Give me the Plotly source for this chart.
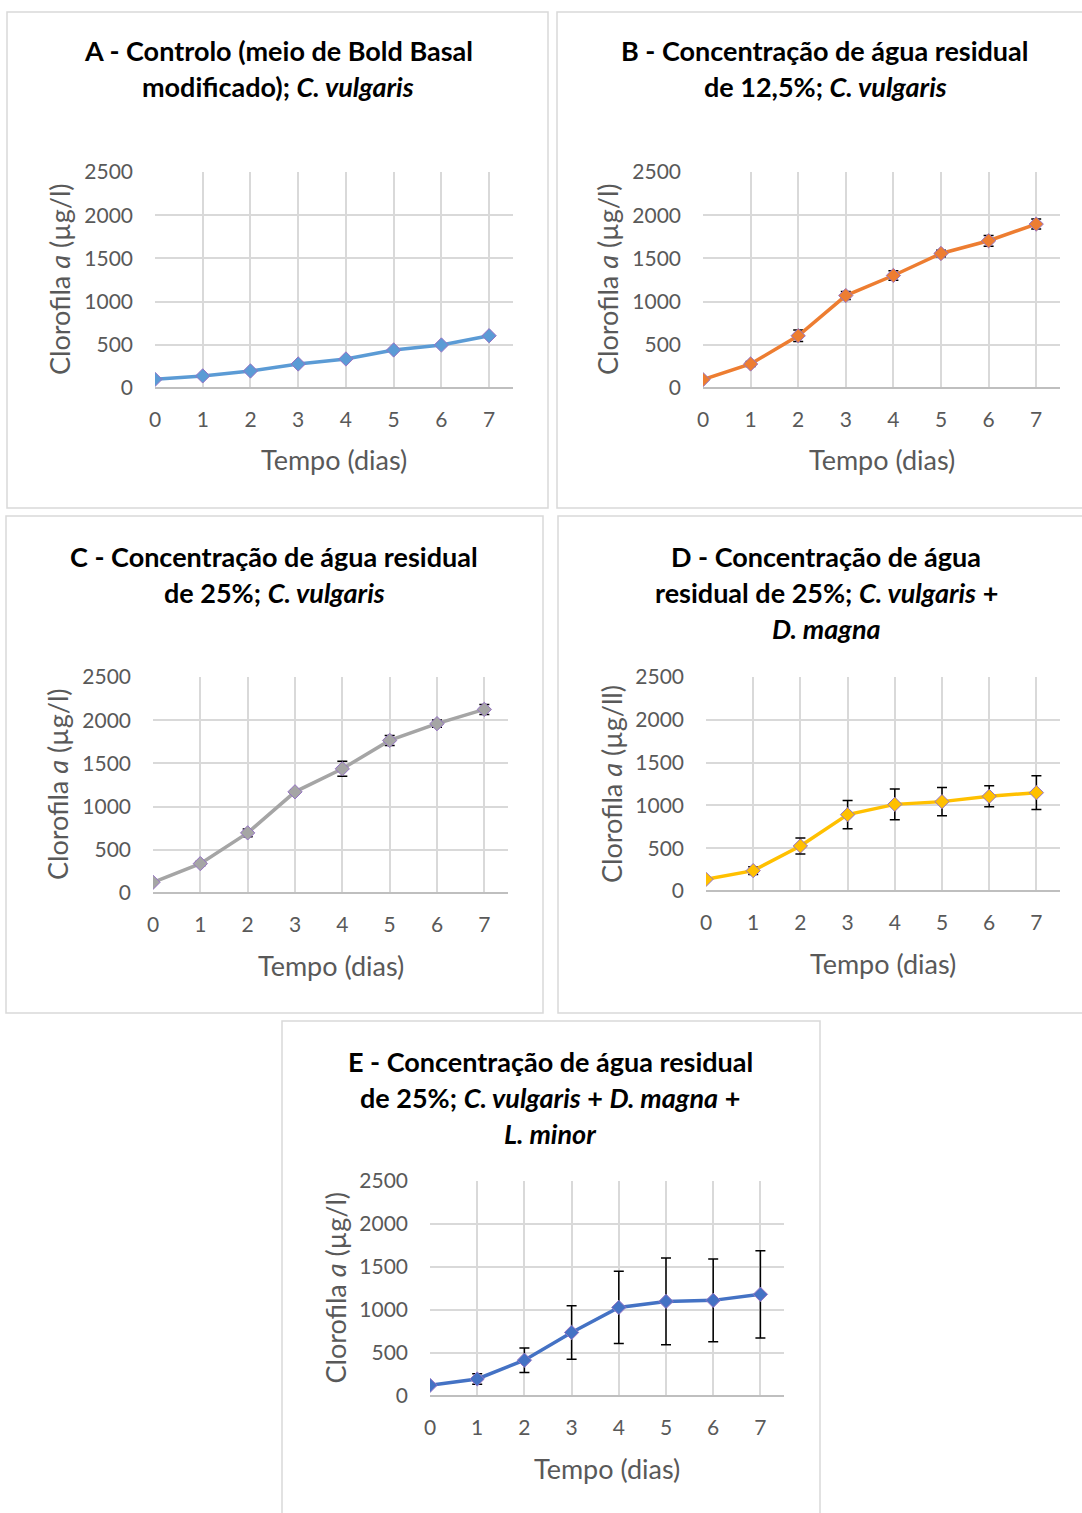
import plotly.graph_objects as go

W, H = 1082, 1513

days = [0, 1, 2, 3, 4, 5, 6, 7]
x_ticks = ["0", "1", "2", "3", "4", "5", "6", "7"]
y_ticks = [0, 500, 1000, 1500, 2000, 2500]

a_vals = [100, 140, 197, 278, 336, 440, 498, 605]
a_err = [6, 8, 8, 8, 10, 12, 12, 12]
b_vals = [97, 278, 605, 1070, 1302, 1557, 1704, 1897]
b_err = [10, 30, 66, 46, 56, 38, 62, 58]
c_vals = [124, 340, 696, 1171, 1438, 1766, 1960, 2125]
c_err = [10, 25, 46, 22, 87, 58, 42, 58]
d_vals = [136, 238, 526, 892, 1012, 1044, 1106, 1149]
d_err = [10, 45, 93, 164, 179, 166, 123, 197]
e_vals = [124, 198, 416, 739, 1030, 1100, 1112, 1182]
e_err = [10, 60, 142, 311, 420, 505, 480, 507]

titles = [
    ["A - Controlo (meio de Bold Basal", "modificado); <i>C. vulgaris</i>"],
    ["B - Concentração de água residual", "de 12,5%; <i>C. vulgaris</i>"],
    ["C - Concentração de água residual", "de 25%; <i>C. vulgaris</i>"],
    ["D - Concentração de água", "residual de 25%; <i>C. vulgaris</i> +", "<i>D. magna</i>"],
    ["E - Concentração de água residual", "de 25%; <i>C. vulgaris</i> + <i>D. magna</i> +", "<i>L. minor</i>"],
]
y_titles = [
    "Clorofila <i>a</i> (µg/l)",
    "Clorofila <i>a</i> (µg/l)",
    "Clorofila <i>a</i> (µg/l)",
    "Clorofila <i>a</i> (µg/ll)",
    "Clorofila <i>a</i> (µg/l)",
]
x_title = "Tempo (dias)"

series = [a_vals, b_vals, c_vals, d_vals, e_vals]
errors = [a_err, b_err, c_err, d_err, e_err]
colors = ["#5B9BD5", "#ED7D31", "#A5A5A5", "#FFC000", "#4472C4"]

plots = [
    (155, 513, 172, 388),
    (703, 1060, 172, 388),
    (153, 508, 677, 893),
    (706, 1060, 677, 891),
    (430, 784, 1181, 1396),
]
boxes = [
    (7, 12, 548, 508),
    (557, 12, 1095, 508),
    (6, 516, 543, 1013),
    (558, 516, 1095, 1013),
    (282, 1021, 820, 1525),
]
title_pos = [(278, 51), (825, 51), (274, 556), (826, 556), (550, 1061)]

FONT = "Lato"
GRAY = "#595959"

def px(x):
    return x / W

def py(y):
    return 1 - y / H

fig = go.Figure()
annotations = []
shapes = []

for i in range(5):
    l, r, t, b = plots[i]
    suffix = "" if i == 0 else str(i + 1)
    fig.add_trace(go.Scatter(
        x=days, y=series[i],
        mode="lines+markers",
        line=dict(color=colors[i], width=3.5),
        marker=dict(symbol="diamond", size=11, color=colors[i],
                    line=dict(color="#9673C4", width=1)),
        error_y=dict(type="data", array=errors[i], visible=True,
                     color="black", thickness=1.5, width=5),
        xaxis="x" + suffix, yaxis="y" + suffix,
        showlegend=False,
    ))
    fig.layout["xaxis" + suffix] = dict(
        domain=[px(l), px(r)], range=[0, 7.5], anchor="y" + suffix,
        tickvals=days, ticktext=x_ticks, automargin=False,
        showgrid=True, gridcolor="#D9D9D9", gridwidth=1.5,
        zeroline=False, showline=False,
        ticks="", ticklabelstandoff=17,
        tickfont=dict(family=FONT, size=21, color=GRAY),
        fixedrange=True,
    )
    fig.layout["yaxis" + suffix] = dict(
        domain=[py(b), py(t)], range=[0, 2500], anchor="x" + suffix,
        tickvals=y_ticks, automargin=False,
        showgrid=True, gridcolor="#D9D9D9", gridwidth=1.5,
        zeroline=True, zerolinecolor="#BFBFBF", zerolinewidth=1.5,
        showline=False, ticks="", ticklabelstandoff=21,
        tickfont=dict(family=FONT, size=21, color=GRAY),
        fixedrange=True,
    )
    x0, y0, x1, y1 = boxes[i]
    shapes.append(dict(type="rect", xref="paper", yref="paper",
                       x0=px(x0), x1=px(x1), y0=py(y1), y1=py(y0),
                       line=dict(color="#D9D9D9", width=1.5), layer="below"))
    cx, ty = title_pos[i]
    for k, line in enumerate(titles[i]):
        annotations.append(dict(
            text="<b>" + line + "</b>", x=px(cx), y=py(ty + 36 * k),
            xref="paper", yref="paper", xanchor="center", yanchor="middle",
            showarrow=False, font=dict(family=FONT, size=27, color="black")))
    annotations.append(dict(
        text=x_title, x=px((l + r) / 2), y=py(b + 72),
        xref="paper", yref="paper", xanchor="center", yanchor="middle",
        showarrow=False, font=dict(family=FONT, size=27, color=GRAY)))
    annotations.append(dict(
        text=y_titles[i], x=px(l - 95), y=py((t + b) / 2),
        xref="paper", yref="paper", xanchor="center", yanchor="middle",
        textangle=-90,
        showarrow=False, font=dict(family=FONT, size=27, color=GRAY)))

fig.update_layout(
    width=W, height=H,
    margin=dict(l=0, r=0, t=0, b=0, autoexpand=False),
    paper_bgcolor="white", plot_bgcolor="white",
    annotations=annotations, shapes=shapes,
)

fig.write_html("out.html", config={"displayModeBar": False})
